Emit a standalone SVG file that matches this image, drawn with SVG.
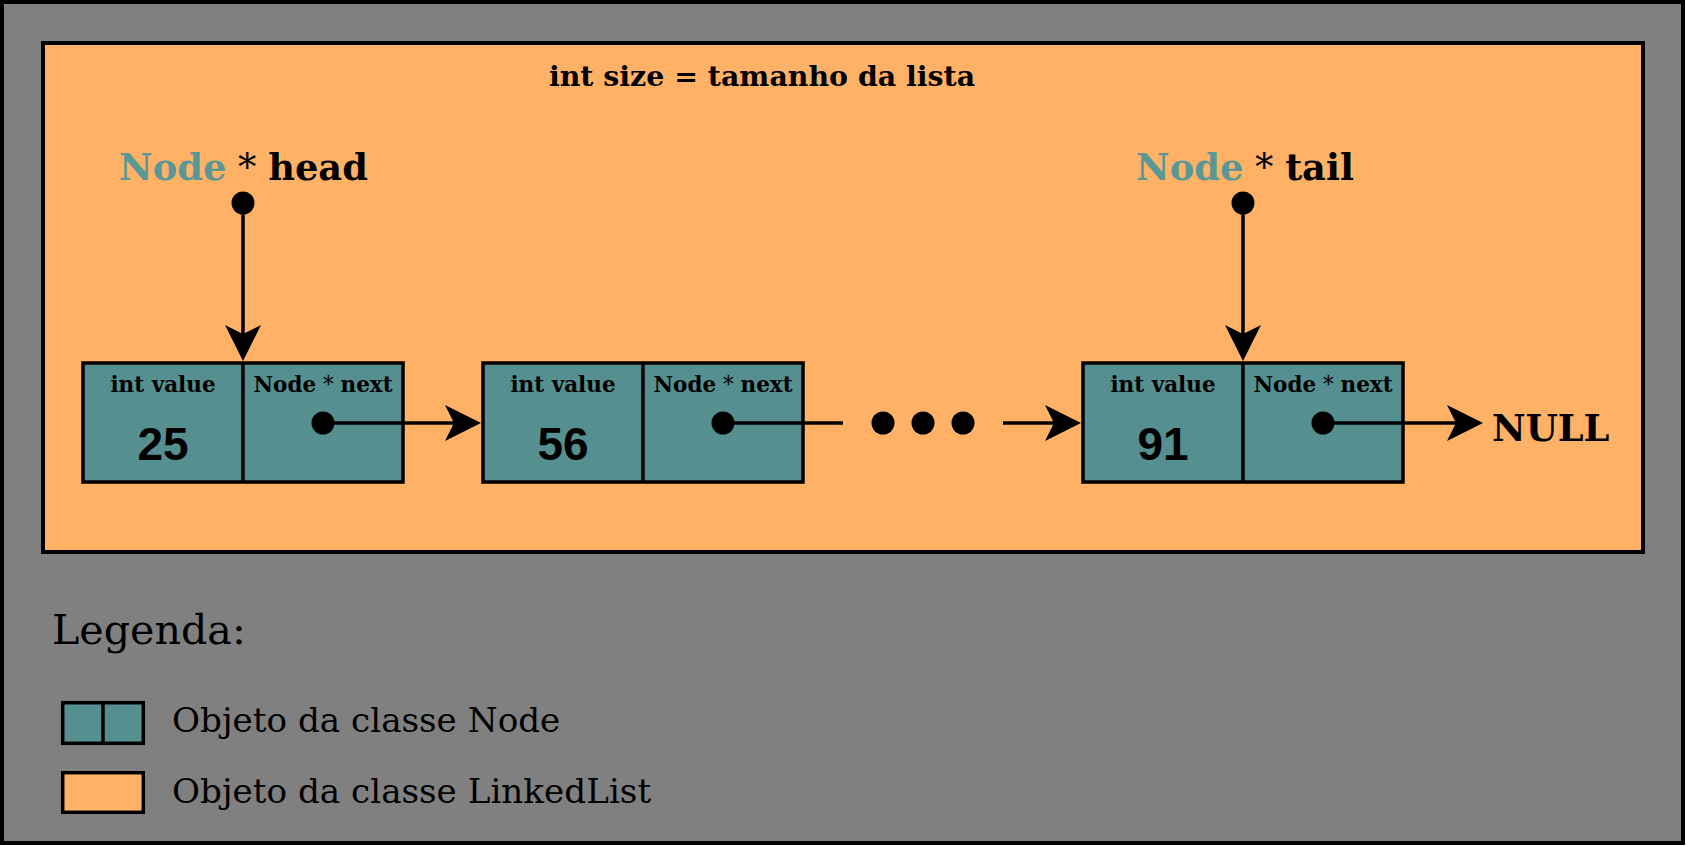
<svg xmlns="http://www.w3.org/2000/svg" width="1686" height="846" viewBox="0 0 1686 846">
<style>
.frame{stroke:#000;stroke-width:4}
.box{fill:#558F8F;stroke:#000;stroke-width:3.5}
.lbl{font-family:"DejaVu Serif","Liberation Serif",serif;font-weight:bold;font-size:21.5px;fill:#000;text-anchor:middle}
.num{font-family:"Liberation Sans",Arial,sans-serif;font-weight:bold;font-size:46px;fill:#000;text-anchor:middle}
.ptr{font-family:"DejaVu Serif","Liberation Serif",serif;font-weight:bold;font-size:36.8px;fill:#000}
.teal{fill:#5A9797}
.star{font-weight:normal}
.leg{font-family:"DejaVu Serif","Liberation Serif",serif;fill:#000}
.wire{stroke:#000;stroke-width:3.5;fill:none}
.dot{fill:#000}
</style>
<defs>
<marker id="arr" viewBox="0 0 36 36" refX="30" refY="18" markerWidth="36" markerHeight="36" markerUnits="userSpaceOnUse" orient="auto">
<path d="M0,0 L36,18 L0,36 L9,18 Z" fill="#000"/>
</marker>
</defs>
<rect class="frame" x="2" y="2" width="1681" height="841" fill="#808080"/>
<g id="linkedlist">
<rect class="frame" x="43" y="43" width="1600" height="509" fill="#FFB266"/>
<text x="762" y="86" font-family="DejaVu Serif, Liberation Serif, serif" font-weight="bold" font-size="28.4" text-anchor="middle">int size = tamanho da lista</text>
</g>
<g id="head">
<text class="ptr" x="119" y="180"><tspan class="teal">Node</tspan><tspan class="star"> * </tspan>head</text>
</g>
<g id="tail">
<text class="ptr" x="1136" y="180"><tspan class="teal">Node</tspan><tspan class="star"> * </tspan>tail</text>
</g>
<g id="node1">
<rect class="box" x="83" y="363" width="320" height="119"/>
<line class="wire" x1="243" y1="363" x2="243" y2="482"/>
<text class="lbl" x="163" y="392">int value</text>
<text class="lbl" x="323" y="392">Node<tspan class="star"> * </tspan>next</text>
<text class="num" x="163" y="460">25</text>
</g>
<g id="node2">
<rect class="box" x="483" y="363" width="320" height="119"/>
<line class="wire" x1="643" y1="363" x2="643" y2="482"/>
<text class="lbl" x="563" y="392">int value</text>
<text class="lbl" x="723" y="392">Node<tspan class="star"> * </tspan>next</text>
<text class="num" x="563" y="460">56</text>
</g>
<g id="node3">
<rect class="box" x="1083" y="363" width="320" height="119"/>
<line class="wire" x1="1243" y1="363" x2="1243" y2="482"/>
<text class="lbl" x="1163" y="392">int value</text>
<text class="lbl" x="1323" y="392">Node<tspan class="star"> * </tspan>next</text>
<text class="num" x="1163" y="460">91</text>
</g>
<g id="null">
<text class="ptr" x="1492" y="441" font-size="38">NULL</text>
</g>
<g id="connectors">
<circle class="dot" cx="243" cy="203" r="11.5"/>
<line class="wire" x1="243" y1="203" x2="243" y2="355" marker-end="url(#arr)"/>
<circle class="dot" cx="1243" cy="203" r="11.5"/>
<line class="wire" x1="1243" y1="203" x2="1243" y2="355" marker-end="url(#arr)"/>
<circle class="dot" cx="323" cy="423" r="11.5"/>
<line class="wire" x1="323" y1="423" x2="475" y2="423" marker-end="url(#arr)"/>
<circle class="dot" cx="723" cy="423" r="11.5"/>
<line class="wire" x1="723" y1="423" x2="843" y2="423"/>
<circle class="dot" cx="883" cy="423" r="11.5"/>
<circle class="dot" cx="923" cy="423" r="11.5"/>
<circle class="dot" cx="963" cy="423" r="11.5"/>
<line class="wire" x1="1003" y1="423" x2="1075" y2="423" marker-end="url(#arr)"/>
<circle class="dot" cx="1323" cy="423" r="11.5"/>
<line class="wire" x1="1323" y1="423" x2="1477" y2="423" marker-end="url(#arr)"/>
</g>
<g id="legend">
<text class="leg" x="52" y="644" font-size="41.2">Legenda:</text>
<rect class="box" x="62.7" y="702.7" width="80.6" height="40.6"/>
<line class="wire" x1="103" y1="702.7" x2="103" y2="743.3"/>
<text class="leg" x="172" y="732" font-size="34.2">Objeto da classe Node</text>
<rect x="62.7" y="772.7" width="80.6" height="39.6" fill="#FFB266" stroke="#000" stroke-width="3.5"/>
<text class="leg" x="172" y="803" font-size="34.2">Objeto da classe LinkedList</text>
</g>
</svg>
